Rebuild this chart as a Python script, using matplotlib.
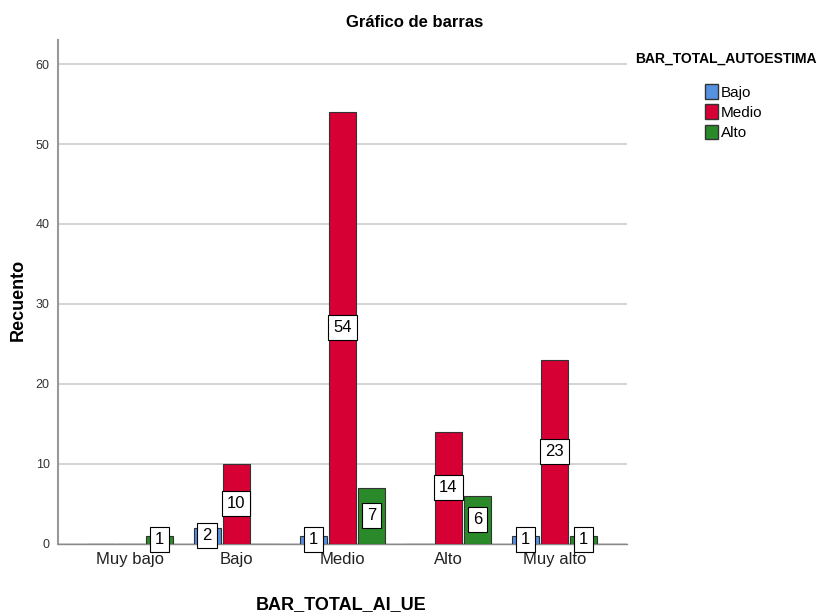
import numpy as np
import matplotlib
matplotlib.use("Agg")
import matplotlib.pyplot as plt
from matplotlib.patches import Patch

plt.rcParams['font.family'] = ['Liberation Sans', 'DejaVu Sans']

# datos
categorias = ["Muy bajo", "Bajo", "Medio", "Alto", "Muy alto"]
series = ["Bajo", "Medio", "Alto"]
val_bajo = [0, 2, 1, 0, 1]
val_medio = [0, 10, 54, 14, 23]
val_alto = [1, 0, 7, 6, 1]
colores = ["#5591e0", "#d70035", "#2a8a2a"]

fig = plt.figure(figsize=(8.17, 6.16), dpi=100)
ax = fig.add_axes([0.071, 0.117, 0.696, 0.818])

x = np.arange(len(categorias))
ancho = 0.255
desp = 0.275
valores = [val_bajo, val_medio, val_alto]

for i, (nombre, vals) in enumerate(zip(series, valores)):
    pos = x + (i - 1) * desp
    ax.bar(pos, vals, width=ancho, color=colores[i], edgecolor="#333333",
           linewidth=0.8, zorder=3)
    for xp, v in zip(pos, vals):
        if v > 0:
            ax.text(xp, v / 2, str(v), ha="center", va="center", fontsize=12,
                    zorder=5,
                    bbox=dict(boxstyle="square,pad=0.3", fc="white", ec="black", lw=0.8))

ax.set_xlim(-0.68, 4.68)
ax.set_ylim(0, 63)
ax.set_yticks([0, 10, 20, 30, 40, 50, 60])
ax.set_xticks(x)
ax.set_xticklabels(categorias, fontsize=12, color="#222222")
ax.tick_params(axis="y", labelsize=9, length=0, pad=6, colors="#333333")
ax.tick_params(axis="x", length=0, pad=6)
ax.yaxis.grid(True, color="#cccccc", linewidth=1.2, zorder=0)
ax.set_axisbelow(True)

for lado in ["top", "right"]:
    ax.spines[lado].set_visible(False)
ax.spines["left"].set_color("#999999")
ax.spines["left"].set_linewidth(1.5)
ax.spines["bottom"].set_color("#888888")
ax.spines["bottom"].set_linewidth(1.0)

fig.text(0.508, 0.963, "Gráfico de barras", ha="center", va="center",
         fontsize=12, fontweight="bold")
fig.text(0.022, 0.513, "Recuento", ha="center", va="center", rotation=90,
         fontsize=13, fontweight="bold")
fig.text(0.418, 0.018, "BAR_TOTAL_AI_UE", ha="center", va="center",
         fontsize=13, fontweight="bold")

handles = [Patch(facecolor=c, edgecolor="#333333", label=s) for c, s in zip(colores, series)]
fig.text(0.889, 0.905, "BAR_TOTAL_AUTOESTIMA", ha="center", va="center",
         fontsize=10, fontweight="bold")
fig.legend(handles=handles, loc="upper left", bbox_to_anchor=(0.855, 0.873),
           frameon=False, fontsize=11, handlelength=0.85, handleheight=1.1,
           handletextpad=0.2, labelspacing=0.3, borderaxespad=0)

fig.savefig("out.png", dpi=100)
